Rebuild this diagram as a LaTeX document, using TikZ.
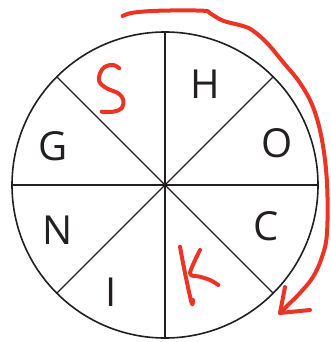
\documentclass[tikz,border=0pt]{standalone}
\usepackage{fontspec}
\setmainfont{Open Sans}
\usetikzlibrary{calc}
\definecolor{inkred}{RGB}{236,52,36}
\definecolor{inkblack}{RGB}{35,31,32}
\begin{document}
\begin{tikzpicture}[x=1pt, y=-1pt,
  every node/.style={font=\fontsize{40}{40}\selectfont, text=inkblack, inner sep=0pt},
  pen/.style={inkred, line width=4pt, line cap=round, line join=round}]
  \useasboundingbox (0,0) rectangle (330,342);

  % 1) Wheel with eight sectors
  \coordinate (ctr) at (165,185);
  \draw[inkblack, line width=1.6pt] (ctr) circle (153);
  \foreach \a in {0,45,90,135}
    \draw[inkblack, line width=1.4pt] ($(ctr)+(\a:153)$) -- ($(ctr)+(\a+180:153)$);

  % 2) Printed letters
  \node (H) at (205.5,84) {H};
  \node (O) at (277,143.5) {O};
  \node (C) at (266,226) {C};
  \node (I) at (111.5,292) {I};
  \node (N) at (57.5,230) {N};
  \node (G) at (53.5,146) {G};

  % 3) Handwritten letters
  \draw[pen] plot[smooth, tension=0.6] coordinates {(119.3,68.3) (113.3,65) (105,66.7) (100,73.3) (99.3,81.7) (106.7,88.3) (118.3,93.3) (123.3,100) (121.7,108.3) (113.3,111.7) (101.7,111.7)};
  \draw[pen] plot[smooth, tension=0.5] coordinates {(180,246.7) (185,273) (191.7,303.3) (193,300)};
  \draw[pen] plot[smooth, tension=0.5] coordinates {(200,250) (190,273.3) (200,276.7) (210,280) (218.3,285)};

  % 4) Handwritten arrow
  \coordinate (tip) at (280,313);
  \draw[pen] plot[smooth, tension=0.6] coordinates {(122.7,16) (133,12.7) (160,10.7) (203,10.7) (210,13.3) (223,20.7) (243,26) (253,30.7) (267,43) (283,62) (300,83) (313,107) (322,140) (327,183) (327,233) (322,257) (313,277) (300,293) (288,305) (tip)};
  \draw[pen] (285,287) -- (tip) -- (310,310);
\end{tikzpicture}
\end{document}
